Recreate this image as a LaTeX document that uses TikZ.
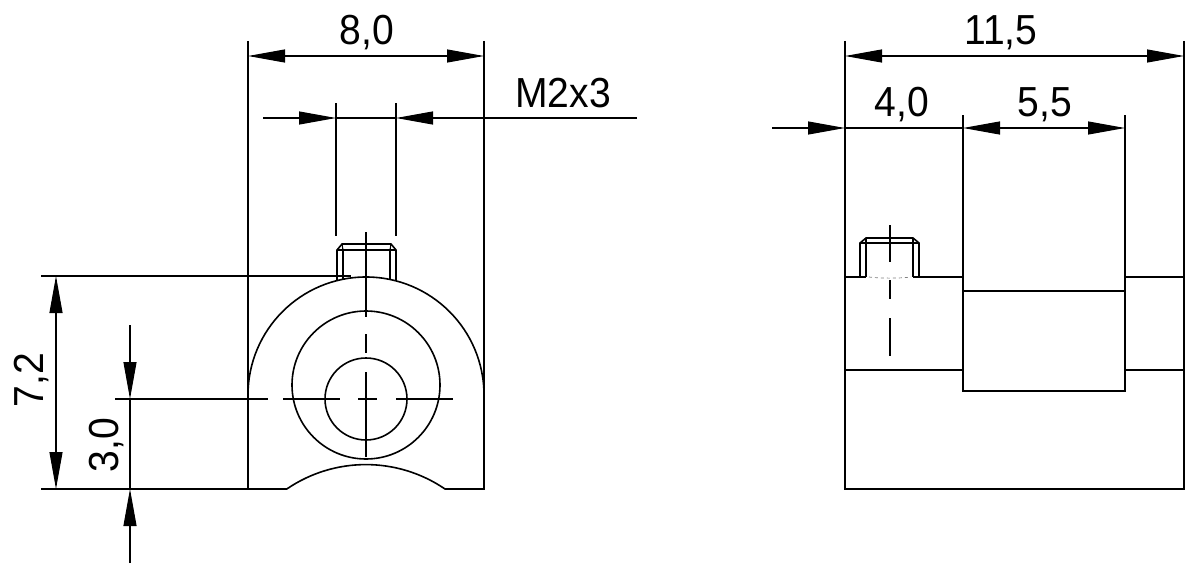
\documentclass[tikz,border=0pt]{standalone}
\usepackage{fontspec}
\setmainfont[FakeStretch=0.93]{Liberation Sans}
\usetikzlibrary{arrows.meta,calc}

\begin{document}
\begin{tikzpicture}[x=1pt,y=-1pt,
outline/.style={line width=1.6pt},
thinline/.style={line width=1.1pt},
dimline/.style={thinline,{Triangle[length=37pt,width=13pt]}-{Triangle[length=37pt,width=13pt]}},
tipend/.style={thinline,-{Triangle[length=37pt,width=13pt]}},
dimtext/.style={font=\fontsize{42}{48}\selectfont,inner sep=0pt,anchor=base}]

    \useasboundingbox (0,0) rectangle (1200,578);
    \fill[white] (0,0) rectangle (1200,578);

    % front view
    \draw[outline] (248,395) arc (180:360:118) -- (484,489) -- (445,489)
        arc (-55.7:-124.3:140.4) -- (248,489) -- cycle;
    \draw[outline] (366,385) circle (74);
    \draw[outline] (366,399) circle (41);
    % screw
    \draw[outline] (337,280) -- (337,250) -- (342,244) -- (391,244) -- (396,250) -- (396,280);
    \draw[thinline] (337,250) -- (396,250) (343,250) -- (343,279) (390,250) -- (390,279);
    \draw[thinline] (342,244) -- (343,250) (391,244) -- (390,250);
    % centre lines
    \draw[thinline] (366,232) -- (366,317) (366,334) -- (366,353) (366,372) -- (366,457);
    \draw[thinline] (115,399) -- (268,399) (283,399) -- (340,399) (358,399) -- (377,399) (396,399) -- (453,399);

    % side view
    \draw[outline] (913,277) -- (963,277) -- (963,391) -- (1125,391) -- (1125,277) -- (1184,277) -- (1184,489) -- (845,489) -- (845,277) -- (866,277);
    \draw[outline] (963,291) -- (1125,291);
    \draw[thinline] (845,370) -- (963,370) (1125,370) -- (1184,370);
    % screw
    \draw[outline] (860,277) -- (860,243) -- (866,238) -- (913,238) -- (919,243) -- (919,277);
    \draw[thinline] (860,243) -- (919,243) (866,238) -- (866,277) (913,238) -- (913,277);
    \draw[line width=.7pt,gray,dashed] (869,277) .. controls (880,278.5) and (900,278.5) .. (911,277);
    \draw[thinline] (890,225) -- (890,262) (890,280) -- (890,299) (890,318) -- (890,356);

    % extension lines
    \draw[thinline] (248,41) -- (248,395) (484,41) -- (484,395);
    \draw[thinline] (336,103) -- (336,236) (396,103) -- (396,236);
    \draw[thinline] (41,276) -- (351,276) (41,489) -- (248,489);
    \draw[thinline] (845,41) -- (845,277) (1184,41) -- (1184,277);
    \draw[thinline] (963,115) -- (963,277) (1125,115) -- (1125,277);

    % dimensions
    \coordinate (widthL) at (248,56);
    \coordinate (widthR) at (484,56);
    \draw[dimline] (widthL) -- (widthR);
    \node[dimtext] (width) at (367,45) {8,0};

    \coordinate (threadA) at (263,118);
    \coordinate (threadB) at (336,118);
    \coordinate (threadC) at (396,118);
    \coordinate (threadD) at (637,118);
    \draw[tipend] (threadA) -- (threadB);
    \draw[thinline] (threadB) -- (threadC);
    \draw[tipend] (threadD) -- (threadC);
    \node[dimtext] (thread) at (563,107) {M2x3};

    \coordinate (heightT) at (56,276);
    \coordinate (heightB) at (56,489);
    \draw[dimline] (heightT) -- (heightB);
    \node[dimtext,rotate=90] (height) at (43,380) {7,2};

    \coordinate (axisA) at (130,325);
    \coordinate (axisB) at (130,399);
    \coordinate (axisC) at (130,489);
    \coordinate (axisD) at (130,563);
    \draw[tipend] (axisA) -- (axisB);
    \draw[thinline] (axisB) -- (axisC);
    \draw[tipend] (axisD) -- (axisC);
    \node[dimtext,rotate=90] (axis) at (118,445) {3,0};

    \coordinate (lengthL) at (845,56);
    \coordinate (lengthR) at (1184,56);
    \draw[dimline] (lengthL) -- (lengthR);
    \node[dimtext] (length) at (1001,45) {11,5};

    \coordinate (offsetA) at (772,128);
    \coordinate (offsetB) at (845,128);
    \coordinate (offsetC) at (963,128);
    \coordinate (offsetD) at (1125,128);
    \draw[tipend] (offsetA) -- (offsetB);
    \draw[thinline] (offsetB) -- (offsetC);
    \draw[dimline] (offsetC) -- (offsetD);
    \node[dimtext] (offset) at (902,117) {4,0};
    \node[dimtext] (slot) at (1045,117) {5,5};
\end{tikzpicture}
\end{document}
